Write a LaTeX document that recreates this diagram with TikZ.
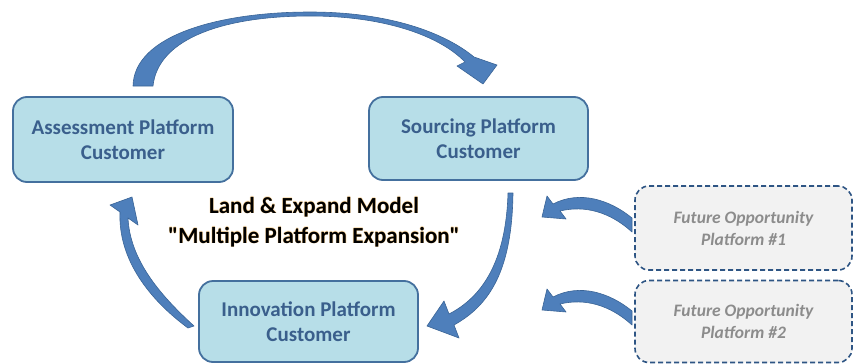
\documentclass[tikz,border=0pt]{standalone}
\usepackage{fontspec}
\setmainfont{Carlito}
\newfontfamily\titlefont{Carlito}[Ligatures=TeXOff]
\definecolor{boxfill}{HTML}{B7DEE8}
\definecolor{boxline}{HTML}{44709E}
\definecolor{boxtext}{HTML}{3A5F8C}
\definecolor{futfill}{HTML}{F2F2F2}
\definecolor{dashline}{HTML}{2E5584}
\definecolor{futtext}{HTML}{8C8C8C}
\definecolor{arrowfill}{HTML}{4E7FBB}
\definecolor{arrowline}{HTML}{3A6496}
\definecolor{glow}{HTML}{F5B85A}
\begin{document}
\begin{tikzpicture}[x=1pt,y=-1pt,
  platform/.style={draw=boxline, line width=1.8pt, fill=boxfill, rounded corners=14pt,
    inner sep=0pt, text=boxtext, font=\bfseries\fontsize{21}{25}\selectfont, align=center},
  future/.style={draw=dashline, line width=1.6pt, dash pattern=on 5pt off 3pt, fill=futfill,
    rounded corners=14pt, inner sep=0pt, text=futtext,
    font=\bfseries\itshape\fontsize{17.5}{22}\selectfont, align=center},
  blockarrow/.style={fill=arrowfill, draw=arrowline, line width=0.6pt, line join=round},
  titletext/.style={font=\titlefont\bfseries\fontsize{23}{30}\selectfont, align=center, inner sep=0pt}]
\useasboundingbox (0,0) rectangle (854,364);

% platform boxes
\node[platform, minimum width=220pt, minimum height=85pt] (assess) at (123,139.5) {Assessment Platform\\Customer};
\node[platform, minimum width=219pt, minimum height=83pt] (source) at (478.5,138.5) {Sourcing Platform\\Customer};
\node[platform, minimum width=219pt, minimum height=81pt] (innov) at (308.5,321.5) {Innovation Platform\\Customer};

% future opportunities
\node[future, minimum width=217pt, minimum height=84pt] (fut1) at (743.5,228) {Future Opportunity\\Platform \#1};
\node[future, minimum width=217pt, minimum height=82pt] (fut2) at (743.5,321.5) {Future Opportunity\\Platform \#2};

% title with a soft glow
\foreach \dx/\dy in {-0.6/0,0.6/0,0/-0.6,0/0.6}
  \node[titletext, text=glow, opacity=0.4] at (314+\dx,222+\dy) {Land \& Expand Model\\"Multiple Platform Expansion"};
\node[titletext] (title) at (314,222) {Land \& Expand Model\\"Multiple Platform Expansion"};

% assessment -> sourcing
\path[blockarrow] (133,86) .. controls (134,35) and (220,12) .. (310,12)
  .. controls (390,12) and (445,33) .. (474,57) -- (497,65) -- (483,84) -- (457,66) -- (465,62)
  .. controls (440,36) and (385,16) .. (310,16)
  .. controls (225,16) and (158,38) .. (153,86) -- cycle;

% sourcing -> innovation
\path[blockarrow] (513,193) .. controls (512,270) and (490,305) .. (454,325)
  -- (459,338) -- (427,326) -- (444,301) -- (449,314)
  .. controls (482,297) and (506,262) .. (508,193) -- cycle;

% innovation -> assessment
\path[blockarrow] (194,326) .. controls (160,295) and (130,260) .. (128,218)
  -- (138,225) -- (132,197) -- (110,205) -- (120,212)
  .. controls (118,260) and (150,300) .. (188,328) -- cycle;

% future opportunity arrows
\foreach \s in {0,93}{
  \path[blockarrow, yshift=-\s pt] (632,232) .. controls (610,212) and (585,205) .. (560,211)
    -- (566,219) -- (542,217) -- (547,196) -- (553,204)
    .. controls (580,190) and (610,200) .. (632,218) -- cycle;
}
\end{tikzpicture}
\end{document}
